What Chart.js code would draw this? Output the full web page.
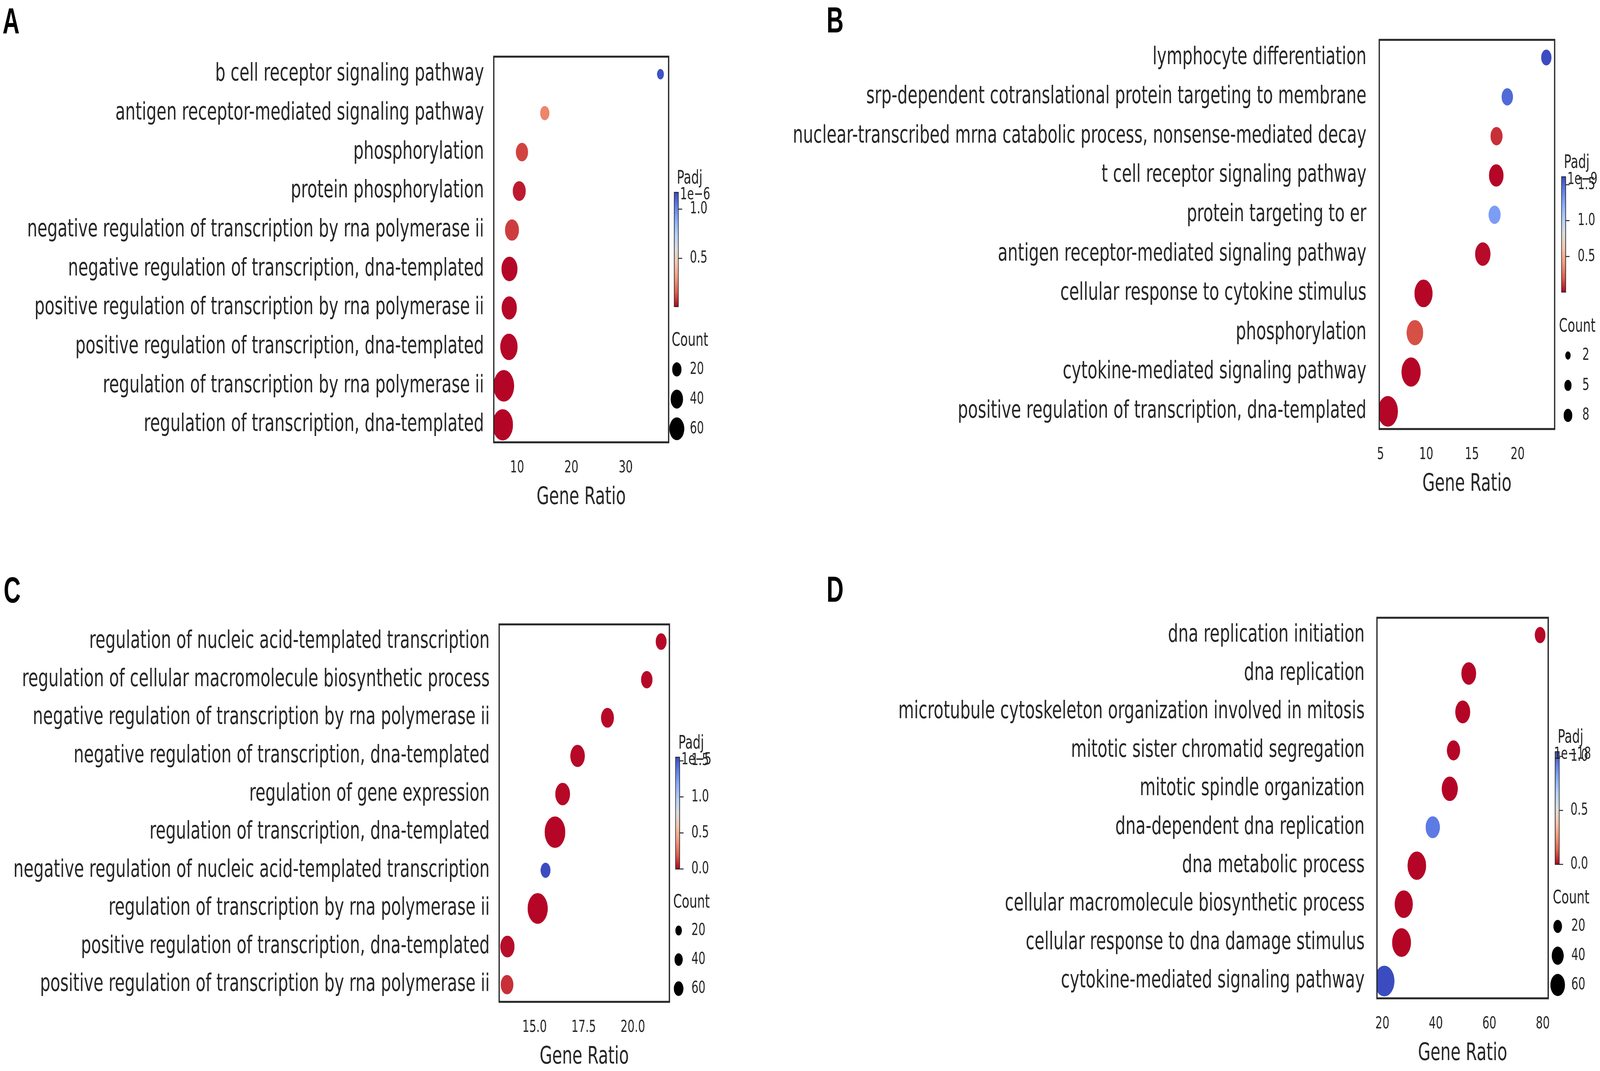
<!DOCTYPE html>
<html>
<head>
<meta charset="utf-8">
<script src="https://cdn.jsdelivr.net/npm/chart.js@4.4.1/dist/chart.umd.min.js"></script>
<style>
  html, body { margin: 0; padding: 0; background: #fff; overflow: hidden; }
  #page { width: 6241px; height: 2741px; position: absolute; left: 0; top: 0; transform-origin: 0 0; background: #fff; }
  canvas { position: absolute; }
  .tag { position: absolute; font: bold 92px "Liberation Sans", Arial, sans-serif; line-height: 92px; color: #000; }
</style>
</head>
<body>
<div id="page">
  <div class="tag" style="left:10px;top:7px">A</div>
  <div class="tag" style="left:3224px;top:5px">B</div>
  <div class="tag" style="left:14px;top:1464px">C</div>
  <div class="tag" style="left:3224px;top:1462px">D</div>
  <canvas id="panel-a"></canvas>
  <canvas id="panel-b"></canvas>
  <canvas id="panel-c"></canvas>
  <canvas id="panel-d"></canvas>
</div>
<script>
// ---- panel A ----
var termsA = ["b cell receptor signaling pathway", "antigen receptor-mediated signaling pathway",
  "phosphorylation", "protein phosphorylation", "negative regulation of transcription by rna polymerase ii",
  "negative regulation of transcription, dna-templated", "positive regulation of transcription by rna polymerase ii",
  "positive regulation of transcription, dna-templated", "regulation of transcription by rna polymerase ii",
  "regulation of transcription, dna-templated"];
var ratioA = [36.4, 15.1, 10.9, 10.4, 9.06, 8.6, 8.56, 8.5, 7.55, 7.36];
var countA = [10, 22, 41, 47, 55, 74, 66, 87, 125, 123];
var padjA = [1.15e-6, 0.25e-6, 0.11e-6, 0.045e-6, 0.10e-6, 0.015e-6, 0.015e-6, 0.015e-6, 0.012e-6, 0.012e-6];
var legendCountA = [20, 40, 60];

// ---- panel B ----
var termsB = ["lymphocyte differentiation", "srp-dependent cotranslational protein targeting to membrane",
  "nuclear-transcribed mrna catabolic process, nonsense-mediated decay", "t cell receptor signaling pathway",
  "protein targeting to er", "antigen receptor-mediated signaling pathway", "cellular response to cytokine stimulus",
  "phosphorylation", "cytokine-mediated signaling pathway", "positive regulation of transcription, dna-templated"];
var ratioB = [23.14, 18.87, 17.69, 17.66, 17.48, 16.19, 9.7, 8.76, 8.34, 5.8];
var countB = [13, 16, 18, 27, 18, 30, 42, 35, 47, 52];
var padjB = [1.61e-9, 1.5e-9, 0.1e-9, 0.01e-9, 1.29e-9, 0.02e-9, 0.01e-9, 0.17e-9, 0.01e-9, 0.01e-9];
var legendCountB = [2, 5, 8];

// ---- panel C ----
var termsC = ["regulation of nucleic acid-templated transcription", "regulation of cellular macromolecule biosynthetic process",
  "negative regulation of transcription by rna polymerase ii", "negative regulation of transcription, dna-templated",
  "regulation of gene expression", "regulation of transcription, dna-templated",
  "negative regulation of nucleic acid-templated transcription", "regulation of transcription by rna polymerase ii",
  "positive regulation of transcription, dna-templated", "positive regulation of transcription by rna polymerase ii"];
var ratioC = [21.44, 20.71, 18.71, 17.19, 16.43, 16.04, 15.56, 15.16, 13.62, 13.6];
var countC = [87, 97, 127, 162, 168, 337, 70, 320, 156, 122];
var padjC = [0.01e-5, 0.01e-5, 0.01e-5, 0.01e-5, 0.01e-5, 0.005e-5, 1.55e-5, 0.005e-5, 0.02e-5, 0.09e-5];
var legendCountC = [20, 40, 60];

// ---- panel D ----
var termsD = ["dna replication initiation", "dna replication", "microtubule cytoskeleton organization involved in mitosis",
  "mitotic sister chromatid segregation", "mitotic spindle organization", "dna-dependent dna replication",
  "dna metabolic process", "cellular macromolecule biosynthetic process", "cellular response to dna damage stimulus",
  "cytokine-mediated signaling pathway"];
var ratioD = [79.0, 52.3, 50.05, 46.6, 45.2, 38.84, 32.88, 27.99, 27.16, 20.74];
var countD = [34, 65, 67, 52, 77, 61, 103, 98, 106, 121];
var padjD = [0.005e-18, 0.002e-18, 0.002e-18, 0.003e-18, 0.002e-18, 0.93e-18, 0.001e-18, 0.001e-18, 0.001e-18, 1.044e-18];
var legendCountD = [20, 40, 60];

// the figure is laid out at 6241x2741; fit it to whatever window we get
var page = document.getElementById('page');
page.style.transform = 'scale(' + (window.innerWidth / 6241) + ',' + (window.innerHeight / 2741) + ')';

Chart.defaults.font.family = '"DejaVu Sans"';
Chart.defaults.color = '#262626';

// coolwarm, blue -> red
var coolwarm = [[59,76,192],[98,130,234],[141,176,254],[184,208,249],[221,221,221],
  [245,196,173],[244,154,123],[222,96,77],[180,4,38]];

function cw(t) {
  t = Math.min(1, Math.max(0, t)) * 8;
  var i = Math.min(7, Math.floor(t)), f = t - i;
  var a = coolwarm[i], b = coolwarm[i + 1];
  return 'rgb(' + [0, 1, 2].map(k => Math.round(a[k] + (b[k] - a[k]) * f)).join(',') + ')';
}

// coolwarm_r : low padj -> red
function padjColor(p, cfg) {
  return cw(1 - (p - cfg.cbMin) / (cfg.cbMax - cfg.cbMin));
}

function radiusOf(c, cfg) {
  return Math.sqrt(cfg.sa + cfg.sb * c) / 2;
}

var sideKey = {
  id: 'sideKey',
  afterDraw(chart, args, o) {
    var ca = chart.chartArea, ctx = chart.ctx;
    var h = ca.bottom - ca.top;
    ctx.save();
    ctx.strokeStyle = '#262626';
    ctx.lineWidth = 5;
    ctx.strokeRect(ca.left, ca.top, ca.right - ca.left, h);

    // colorbar
    var barL = ca.right + o.barDx, barW = 16;
    var barT = ca.top + 0.352 * h, barB = ca.top + 0.648 * h;
    var g = ctx.createLinearGradient(0, barB, 0, barT);
    for (var k = 0; k <= 8; k++) g.addColorStop(k / 8, cw(1 - k / 8));
    ctx.fillStyle = g;
    ctx.fillRect(barL, barT, barW, barB - barT);
    ctx.lineWidth = 2.5;
    ctx.strokeRect(barL, barT, barW, barB - barT);

    ctx.fillStyle = '#262626';
    ctx.font = '43px "DejaVu Sans"';
    ctx.textBaseline = 'middle';
    ctx.textAlign = 'left';
    var unit = Math.pow(10, o.exp);
    for (var t = 0; t <= o.cbMax / unit + 1e-9; t += 0.5) {
      var v = t * unit;
      if (v < o.cbMin - 1e-30) continue;
      var y = barB - (v - o.cbMin) / (o.cbMax - o.cbMin) * (barB - barT);
      ctx.beginPath();
      ctx.moveTo(barL + barW, y);
      ctx.lineTo(barL + barW + 15, y);
      ctx.stroke();
      ctx.fillText(t.toFixed(1), ca.right + o.tickDx, y);
    }
    ctx.textBaseline = 'alphabetic';
    ctx.textAlign = 'right';
    ctx.fillText('1e\u2212' + (-o.exp), barL + barW + 124, barT + 18);
    ctx.textAlign = 'left';
    ctx.font = '48px "DejaVu Sans"';
    ctx.fillText('Padj', ca.right + o.padjDx, ca.top + 0.329 * h);

    // size legend
    ctx.fillText('Count', ca.right + o.countDx, ca.top + 0.75 * h);
    ctx.font = '43px "DejaVu Sans"';
    ctx.textBaseline = 'middle';
    var rows = [0.811, 0.888, 0.965];
    o.legend.forEach(function (c, i) {
      var yy = ca.top + rows[i] * h;
      ctx.fillStyle = '#000';
      ctx.beginPath();
      ctx.arc(ca.right + o.markerDx, yy, radiusOf(c, o), 0, Math.PI * 2);
      ctx.fill();
      ctx.fillStyle = '#262626';
      ctx.fillText(String(c), ca.right + o.labelDx, yy);
    });
    ctx.restore();
  }
};

function makePanel(id, terms, ratio, count, padj, cfg) {
  var el = document.getElementById(id);
  el.width = cfg.w;
  el.height = cfg.h;
  el.style.left = cfg.cx + 'px';
  el.style.top = cfg.cy + 'px';
  new Chart(el, {
    type: 'scatter',
    data: {
      datasets: [{
        data: terms.map((t, i) => ({ x: ratio[i], y: i })),
        pointRadius: ctx => radiusOf(count[ctx.dataIndex], cfg),
        pointHoverRadius: ctx => radiusOf(count[ctx.dataIndex], cfg),
        backgroundColor: ctx => padjColor(padj[ctx.dataIndex], cfg),
        borderColor: '#ffffff',
        borderWidth: 1.5
      }]
    },
    options: {
      responsive: false,
      animation: false,
      devicePixelRatio: 1,
      events: [],
      layout: { padding: { top: cfg.top, right: cfg.right, left: 0, bottom: 0 } },
      plugins: {
        legend: { display: false },
        tooltip: { enabled: false },
        sideKey: cfg
      },
      scales: {
        x: {
          type: 'linear',
          min: cfg.xMin,
          max: cfg.xMax,
          grid: { display: false, drawTicks: false },
          border: { display: false },
          ticks: {
            stepSize: cfg.step,
            includeBounds: false,
            padding: 40,
            font: { size: 43 },
            callback: v => cfg.step < 5 ? v.toFixed(1) : String(v)
          },
          title: { display: true, text: 'Gene Ratio', font: { size: 63 }, padding: { top: 0, bottom: 1 } },
          afterFit: s => { s.height = 180; }
        },
        y: {
          type: 'linear',
          min: -0.45,
          max: terms.length - 0.55,
          reverse: true,
          grid: { display: false, drawTicks: false },
          border: { display: false },
          ticks: {
            stepSize: 1,
            includeBounds: false,
            autoSkip: false,
            padding: cfg.labelPad,
            font: { size: 63 },
            callback: v => terms[Math.round(v)]
          },
          afterFit: s => { s.width = cfg.yWidth; }
        }
      }
    },
    plugins: [sideKey]
  });
}

makePanel('panel-a', termsA, ratioA, countA, padjA, {
  cx: 0, cy: 0, w: 2900, h: 1312, top: 145, right: 292, yWidth: 1926, labelPad: 38,
  xMin: 5.71, xMax: 37.9, step: 10, cbMin: 0.01e-6, cbMax: 1.17e-6, exp: -6,
  sa: 286, sb: 51.7, legend: legendCountA,
  barDx: 22, tickDx: 83, padjDx: 32, countDx: 12, markerDx: 32, labelDx: 83
});
makePanel('panel-b', termsB, ratioB, countB, padjB, {
  cx: 2920, cy: 0, w: 3321, h: 1278, top: 102, right: 177, yWidth: 2460, labelPad: 50,
  xMin: 4.86, xMax: 24.05, step: 5, cbMin: 0.005e-9, cbMax: 1.61e-9, exp: -9,
  sa: 198, sb: 119.2, legend: legendCountB,
  barDx: 27, tickDx: 90, padjDx: 36, countDx: 17, markerDx: 52, labelDx: 108
});
makePanel('panel-c', termsC, ratioC, countC, padjC, {
  cx: 0, cy: 1390, w: 2900, h: 1354, top: 208, right: 289, yWidth: 1947, labelPad: 37,
  xMin: 13.2, xMax: 21.86, step: 2.5, cbMin: 0, cbMax: 1.55e-5, exp: -5,
  sa: 259, sb: 19.2, legend: legendCountC,
  barDx: 24, tickDx: 86, padjDx: 35, countDx: 15, markerDx: 36, labelDx: 86
});
makePanel('panel-d', termsD, ratioD, countD, padjD, {
  cx: 2920, cy: 1390, w: 3321, h: 1345, top: 191, right: 202, yWidth: 2451, labelPad: 48,
  xMin: 17.97, xMax: 82.03, step: 20, cbMin: 0, cbMax: 1.044e-18, exp: -18,
  sa: 81, sb: 52.3, legend: legendCountD,
  barDx: 27, tickDx: 87, padjDx: 37, countDx: 18, markerDx: 37, labelDx: 90
});
</script>
</body>
</html>
